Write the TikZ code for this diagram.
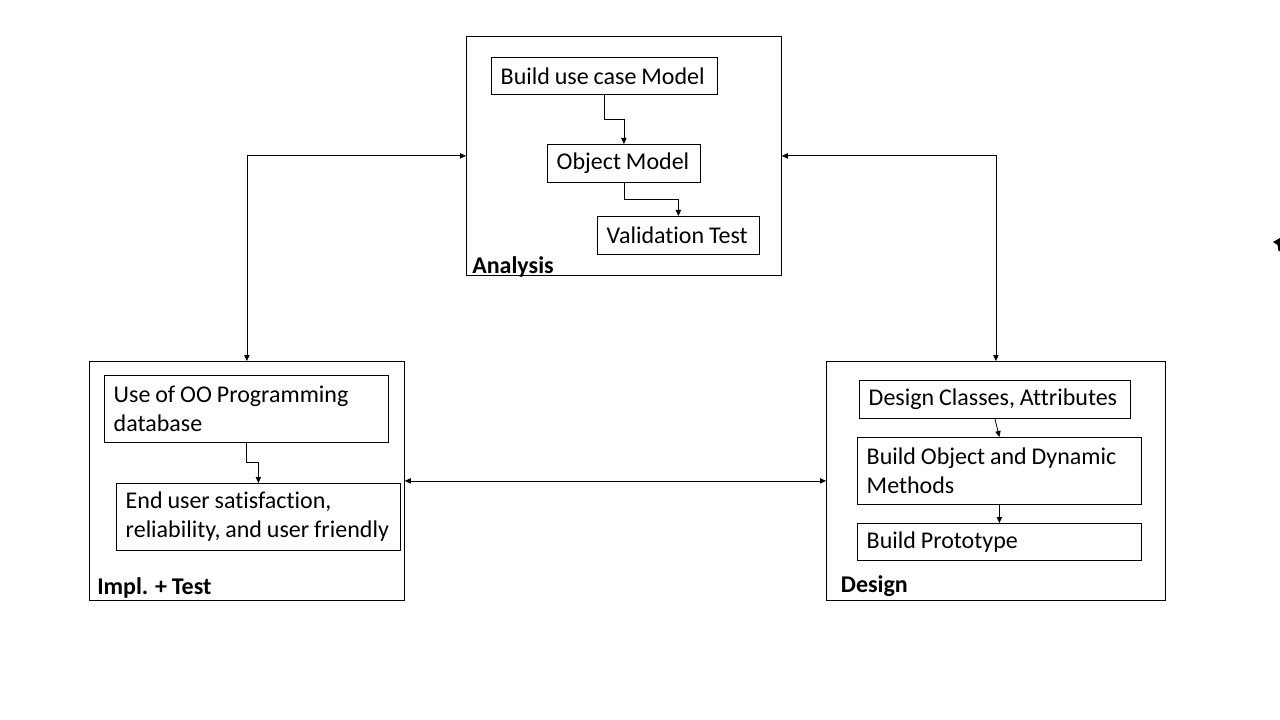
\documentclass[tikz,border=0pt]{standalone}
\usepackage{fontspec}
\setmainfont[Ligatures=NoCommon, WordSpace=0.9]{Carlito}
\usetikzlibrary{arrows.meta}

\tikzset{
	frame/.style={draw, line width=0.6pt, anchor=north west, inner sep=0pt},
	box/.style={draw, line width=0.6pt, anchor=north west,
		inner xsep=7pt, inner ysep=0pt, font=\fontsize{18pt}{21.75pt}\selectfont,
		execute at begin node={\spaceskip=0pt\xspaceskip=0pt\relax}},
	lbl/.style={anchor=base west, inner sep=0pt, font=\fontsize{18pt}{21.75pt}\selectfont\bfseries},
	arr/.style={line width=0.6pt, -{Triangle[length=4.5pt,width=4pt]}},
	dblarr/.style={line width=0.6pt, {Triangle[length=4.5pt,width=4pt]}-{Triangle[length=4.5pt,width=4pt]}},
}

\begin{document}
\begin{tikzpicture}[x=0.75pt, y=-0.75pt]
	\useasboundingbox (0,0) rectangle (1280,720);

	% phase frames
	\node[frame, minimum width=236.25pt, minimum height=179.25pt] (ana) at (466,36) {};
	\node[frame, minimum width=236.25pt, minimum height=179.25pt] (imp) at (89,361) {};
	\node[frame, minimum width=254.25pt, minimum height=179.25pt] (des) at (826,361) {};

	\node[lbl] (analbl) at ([xshift=4.5pt, yshift=2pt]ana.south west) {Analysis};
	\node[lbl] (implbl) at ([xshift=6pt, yshift=4.7pt]imp.south west) {Impl. + Test};
	\node[lbl] (deslbl) at ([xshift=11pt, yshift=6.2pt]des.south west) {Design};

	% analysis
	\node[box, text width=155.5pt, minimum height=27.75pt] (buc) at (491,57) {\mbox{Build use case Model}};
	\node[box, text width=100.75pt, minimum height=28.5pt] (obj) at (547,144) {\mbox{Object Model}};
	\node[box, text width=107.5pt, minimum height=28.5pt] (val) at (597,216) {\mbox{Validation Test}};

	% implementation
	\node[box, text width=199pt, minimum height=50.25pt] (oop) at (104,375)
		{\mbox{Use of OO Programming}\\database};
	\node[box, text width=199pt, minimum height=50.25pt] (usr) at (116,483)
		{\mbox{End user satisfaction,}\\\mbox{reliability, and user friendly}};

	% design
	\node[box, text width=189.25pt, minimum height=28.5pt] (dcl) at (859,380) {\mbox{Design Classes, Attributes}};
	\node[box, text width=199pt, minimum height=50.25pt] (bod) at (857,437)
		{\mbox{Build Object and Dynamic}\\Methods};
	\node[box, text width=199pt, minimum height=27.75pt] (bpr) at (857,523) {\mbox{Build Prototype}};

	% inner flow
	\draw[arr] (buc.south) -- ++(0,25) -| (obj.north);
	\draw[arr] (obj.south) -- ++(0,17) -| (val.north);
	\draw[arr] (oop.south) -- ++(0,20) -| (usr.north);
	\draw[arr] (dcl.south) -- (bod.north);
	\draw[arr] (bod.south) -- (bpr.north);

	% between phases
	\draw[dblarr] (ana.west) -| (imp.north);
	\draw[dblarr] (ana.east) -| (des.north);
	\draw[dblarr] (imp.east) -- (des.west);

	% stray mark at the right edge
	\fill (1273,242) -- (1280,238) -- (1280,251) -- (1278.5,251) -- (1277.5,245) -- cycle;
\end{tikzpicture}
\end{document}
